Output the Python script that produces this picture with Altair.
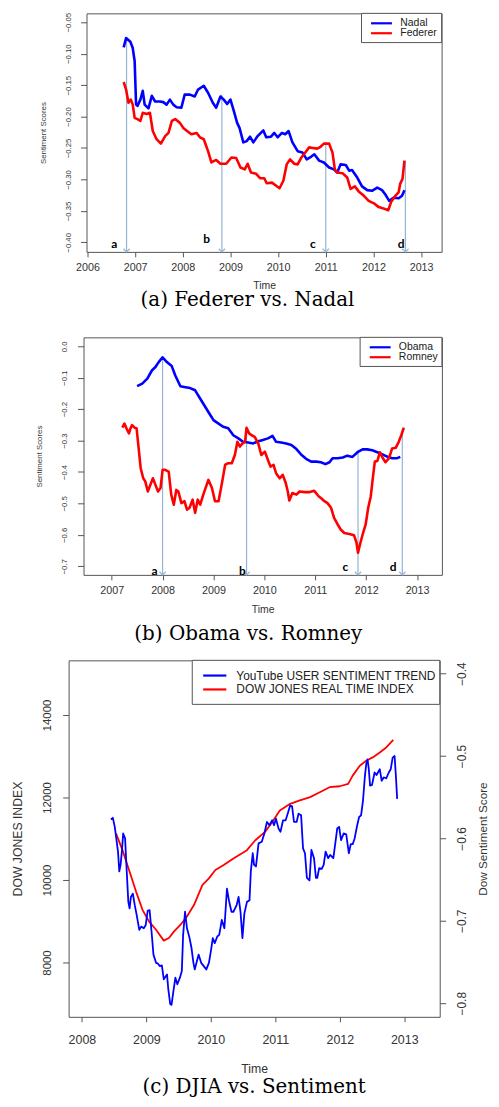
import altair as alt
import pandas as pd

# ---------------- Panel (a): Federer vs. Nadal ----------------
nadal_year = [2006.76, 2006.81, 2006.90, 2006.95, 2006.99, 2007.02, 2007.05, 2007.11, 2007.16, 2007.20,
              2007.28, 2007.35, 2007.42, 2007.52, 2007.59, 2007.66, 2007.73, 2007.80, 2007.87, 2007.97,
              2008.04, 2008.15, 2008.25, 2008.32, 2008.44, 2008.53, 2008.63, 2008.70, 2008.79, 2008.86,
              2008.93, 2009.00, 2009.07, 2009.14, 2009.19, 2009.27, 2009.34, 2009.41, 2009.48, 2009.57,
              2009.69, 2009.75, 2009.85, 2009.92, 2009.99, 2010.08, 2010.15, 2010.22, 2010.30, 2010.41,
              2010.51, 2010.60, 2010.69, 2010.76, 2010.86, 2010.96, 2011.07, 2011.17, 2011.24, 2011.31,
              2011.42, 2011.49, 2011.55, 2011.66, 2011.76, 2011.87, 2011.97, 2012.08, 2012.18, 2012.25,
              2012.33, 2012.42, 2012.53, 2012.60, 2012.65]
nadal_score = [-0.090, -0.075, -0.081, -0.091, -0.112, -0.181, -0.183, -0.173, -0.159, -0.181,
               -0.187, -0.167, -0.176, -0.176, -0.177, -0.181, -0.173, -0.181, -0.185, -0.186,
               -0.165, -0.165, -0.168, -0.157, -0.151, -0.162, -0.178, -0.186, -0.168, -0.173,
               -0.180, -0.173, -0.191, -0.210, -0.218, -0.241, -0.239, -0.232, -0.241, -0.231,
               -0.222, -0.233, -0.232, -0.226, -0.233, -0.226, -0.228, -0.223, -0.241, -0.255,
               -0.257, -0.268, -0.264, -0.260, -0.270, -0.273, -0.281, -0.284, -0.289, -0.276,
               -0.277, -0.286, -0.285, -0.297, -0.311, -0.317, -0.318, -0.313, -0.317, -0.324,
               -0.334, -0.329, -0.330, -0.326, -0.317]
federer_year = [2006.76, 2006.81, 2006.86, 2006.91, 2006.95, 2006.99, 2007.05, 2007.11, 2007.16, 2007.24,
                2007.31, 2007.37, 2007.45, 2007.54, 2007.63, 2007.70, 2007.77, 2007.84, 2007.94, 2008.01,
                2008.09, 2008.18, 2008.29, 2008.36, 2008.44, 2008.53, 2008.60, 2008.70, 2008.79, 2008.91,
                2009.02, 2009.12, 2009.21, 2009.30, 2009.36, 2009.43, 2009.54, 2009.62, 2009.71, 2009.76,
                2009.87, 2009.96, 2010.03, 2010.11, 2010.18, 2010.25, 2010.34, 2010.41, 2010.48, 2010.57,
                2010.65, 2010.73, 2010.82, 2010.89, 2010.96, 2011.07, 2011.14, 2011.19, 2011.24, 2011.35,
                2011.45, 2011.52, 2011.61, 2011.69, 2011.80, 2011.90, 2012.01, 2012.11, 2012.21, 2012.31,
                2012.37, 2012.46, 2012.53, 2012.56, 2012.61, 2012.65]
federer_score = [-0.145, -0.157, -0.178, -0.173, -0.181, -0.202, -0.204, -0.207, -0.194, -0.196,
                 -0.194, -0.223, -0.236, -0.243, -0.231, -0.226, -0.207, -0.204, -0.210, -0.218,
                 -0.223, -0.228, -0.226, -0.233, -0.236, -0.255, -0.273, -0.269, -0.275, -0.275,
                 -0.265, -0.266, -0.281, -0.284, -0.275, -0.289, -0.291, -0.298, -0.298, -0.306,
                 -0.305, -0.310, -0.314, -0.302, -0.276, -0.268, -0.275, -0.276, -0.266, -0.257,
                 -0.249, -0.250, -0.251, -0.248, -0.243, -0.243, -0.257, -0.284, -0.289, -0.290,
                 -0.297, -0.315, -0.311, -0.319, -0.326, -0.334, -0.338, -0.344, -0.346, -0.349,
                 -0.336, -0.326, -0.320, -0.307, -0.299, -0.270]
a_series = ["Nadal", "Federer"]
a_arrow_year = [2006.82, 2008.82, 2011.00, 2012.67]
a_arrow_top = [-0.075, -0.165, -0.243, -0.270]
a_letter_year = [2006.56, 2008.50, 2010.73, 2012.58]
a_letter_score = [-0.402, -0.395, -0.402, -0.402]
a_xticks = [2006, 2007, 2008, 2009, 2010, 2011, 2012, 2013]
a_yticks = [-0.40, -0.35, -0.30, -0.25, -0.20, -0.15, -0.10, -0.05]

# ---------------- Panel (b): Obama vs. Romney ----------------
obama_year = [2007.50, 2007.60, 2007.70, 2007.79, 2007.86, 2007.92, 2008.00, 2008.09, 2008.18, 2008.25,
              2008.35, 2008.45, 2008.54, 2008.64, 2008.74, 2008.84, 2008.90, 2009.00, 2009.10, 2009.19,
              2009.29, 2009.39, 2009.49, 2009.58, 2009.68, 2009.78, 2009.88, 2009.97, 2010.07, 2010.16,
              2010.23, 2010.33, 2010.43, 2010.53, 2010.63, 2010.72, 2010.82, 2010.92, 2011.02, 2011.11,
              2011.20, 2011.28, 2011.34, 2011.44, 2011.54, 2011.63, 2011.73, 2011.83, 2011.93, 2012.02,
              2012.12, 2012.22, 2012.32, 2012.41, 2012.51, 2012.61, 2012.67]
obama_score = [-0.127, -0.119, -0.103, -0.077, -0.066, -0.051, -0.035, -0.051, -0.063, -0.093,
               -0.127, -0.130, -0.133, -0.140, -0.167, -0.193, -0.209, -0.235, -0.246, -0.256,
               -0.261, -0.283, -0.293, -0.304, -0.306, -0.309, -0.302, -0.298, -0.293, -0.285,
               -0.304, -0.306, -0.309, -0.314, -0.327, -0.344, -0.358, -0.367, -0.367, -0.369,
               -0.375, -0.369, -0.356, -0.356, -0.354, -0.348, -0.352, -0.337, -0.328, -0.328,
               -0.331, -0.337, -0.344, -0.351, -0.356, -0.356, -0.352]
romney_year = [2007.21, 2007.25, 2007.29, 2007.34, 2007.37, 2007.40, 2007.45, 2007.49, 2007.52, 2007.57,
               2007.62, 2007.66, 2007.71, 2007.76, 2007.81, 2007.86, 2007.91, 2007.96, 2008.00, 2008.05,
               2008.12, 2008.17, 2008.22, 2008.27, 2008.31, 2008.37, 2008.43, 2008.48, 2008.53, 2008.59,
               2008.64, 2008.69, 2008.74, 2008.80, 2008.90, 2008.97, 2009.03, 2009.10, 2009.16, 2009.23,
               2009.29, 2009.36, 2009.42, 2009.47, 2009.52, 2009.57, 2009.62, 2009.65, 2009.70, 2009.75,
               2009.81, 2009.88, 2009.94, 2010.01, 2010.07, 2010.12, 2010.18, 2010.23, 2010.30, 2010.36,
               2010.42, 2010.46, 2010.49, 2010.55, 2010.63, 2010.69, 2010.79, 2010.89, 2010.98, 2011.07,
               2011.11, 2011.18, 2011.24, 2011.31, 2011.37, 2011.44, 2011.50, 2011.57, 2011.67, 2011.76,
               2011.81, 2011.84, 2011.88, 2011.93, 2011.99, 2012.04, 2012.09, 2012.13, 2012.17, 2012.22,
               2012.27, 2012.32, 2012.38, 2012.45, 2012.51, 2012.58, 2012.64, 2012.69, 2012.74]
romney_score = [-0.259, -0.246, -0.261, -0.277, -0.261, -0.251, -0.259, -0.261, -0.309, -0.388,
                -0.420, -0.430, -0.462, -0.441, -0.420, -0.441, -0.462, -0.451, -0.393, -0.393,
                -0.399, -0.472, -0.504, -0.457, -0.462, -0.499, -0.493, -0.520, -0.514, -0.488,
                -0.530, -0.488, -0.504, -0.472, -0.425, -0.451, -0.493, -0.493, -0.441, -0.377,
                -0.372, -0.372, -0.346, -0.304, -0.319, -0.309, -0.304, -0.259, -0.277, -0.283,
                -0.288, -0.309, -0.346, -0.335, -0.362, -0.383, -0.377, -0.404, -0.420, -0.409,
                -0.435, -0.462, -0.491, -0.467, -0.472, -0.462, -0.464, -0.464, -0.460, -0.478,
                -0.483, -0.493, -0.499, -0.514, -0.546, -0.567, -0.583, -0.594, -0.597, -0.601,
                -0.625, -0.657, -0.630, -0.599, -0.567, -0.514, -0.478, -0.420, -0.367, -0.365,
                -0.337, -0.354, -0.369, -0.356, -0.325, -0.323, -0.304, -0.283, -0.259]
b_series = ["Obama", "Romney"]
b_arrow_year = [2008.00, 2009.65, 2011.84, 2012.71]
b_arrow_top = [-0.035, -0.259, -0.330, -0.262]
b_letter_year = [2007.84, 2009.57, 2011.59, 2012.53]
b_letter_score = [-0.715, -0.715, -0.702, -0.702]
b_xticks = [2007, 2008, 2009, 2010, 2011, 2012, 2013]
b_yticks = [-0.7, -0.6, -0.5, -0.4, -0.3, -0.2, -0.1, 0.0]

# ---------------- Panel (c): DJIA vs. Sentiment ----------------
dow_year = [2008.53, 2008.63, 2008.74, 2008.84, 2008.94, 2009.04, 2009.15, 2009.27, 2009.35, 2009.43,
            2009.53, 2009.63, 2009.74, 2009.87, 2009.97, 2010.07, 2010.20, 2010.35, 2010.56, 2010.69,
            2010.84, 2010.97, 2011.07, 2011.23, 2011.38, 2011.54, 2011.69, 2011.84, 2012.00, 2012.13,
            2012.20, 2012.31, 2012.41, 2012.51, 2012.62, 2012.72, 2012.83]
dow_index = [11125, 10723, 10201, 9719, 9277, 8996, 8795, 8530, 8594, 8755,
             8916, 9117, 9398, 9880, 10040, 10241, 10362, 10522, 10723, 10964,
             11165, 11446, 11687, 11847, 11928, 12008, 12129, 12249, 12273, 12329,
             12530, 12771, 12892, 12972, 13092, 13213, 13398]
yt_year = [2008.45, 2008.48, 2008.51, 2008.56, 2008.58, 2008.60, 2008.62, 2008.64, 2008.67, 2008.69,
           2008.72, 2008.74, 2008.76, 2008.79, 2008.82, 2008.85, 2008.89, 2008.92, 2008.96, 2008.99,
           2009.02, 2009.05, 2009.08, 2009.11, 2009.15, 2009.18, 2009.21, 2009.24, 2009.27, 2009.32,
           2009.34, 2009.37, 2009.39, 2009.42, 2009.45, 2009.48, 2009.52, 2009.55, 2009.57, 2009.60,
           2009.63, 2009.67, 2009.70, 2009.73, 2009.75, 2009.79, 2009.81, 2009.85, 2009.89, 2009.93,
           2009.97, 2010.00, 2010.03, 2010.06, 2010.10, 2010.13, 2010.17, 2010.21, 2010.25, 2010.28,
           2010.32, 2010.35, 2010.40, 2010.43, 2010.46, 2010.49, 2010.52, 2010.56, 2010.60, 2010.62,
           2010.65, 2010.67, 2010.70, 2010.74, 2010.79, 2010.83, 2010.87, 2010.91, 2010.95, 2010.98,
           2011.01, 2011.05, 2011.08, 2011.12, 2011.16, 2011.20, 2011.23, 2011.26, 2011.29, 2011.33,
           2011.36, 2011.40, 2011.43, 2011.46, 2011.49, 2011.53, 2011.56, 2011.60, 2011.63, 2011.65,
           2011.68, 2011.72, 2011.75, 2011.78, 2011.82, 2011.85, 2011.90, 2011.92, 2011.96, 2011.99,
           2012.02, 2012.06, 2012.10, 2012.14, 2012.17, 2012.20, 2012.23, 2012.27, 2012.30, 2012.33,
           2012.36, 2012.39, 2012.41, 2012.43, 2012.45, 2012.47, 2012.50, 2012.54, 2012.57, 2012.62,
           2012.65, 2012.68, 2012.72, 2012.76, 2012.79, 2012.82, 2012.85, 2012.87, 2012.89]
yt_sentiment = [-0.577, -0.575, -0.586, -0.616, -0.640, -0.632, -0.616, -0.594, -0.600, -0.632,
                -0.677, -0.685, -0.671, -0.667, -0.681, -0.693, -0.711, -0.707, -0.709, -0.705,
                -0.688, -0.687, -0.713, -0.741, -0.751, -0.752, -0.755, -0.754, -0.771, -0.765,
                -0.783, -0.801, -0.802, -0.785, -0.769, -0.777, -0.769, -0.761, -0.717, -0.689,
                -0.709, -0.721, -0.733, -0.751, -0.759, -0.747, -0.741, -0.751, -0.755, -0.759,
                -0.751, -0.737, -0.721, -0.727, -0.719, -0.717, -0.699, -0.709, -0.661, -0.675,
                -0.689, -0.689, -0.681, -0.671, -0.689, -0.721, -0.691, -0.677, -0.675, -0.640,
                -0.618, -0.632, -0.634, -0.606, -0.604, -0.594, -0.580, -0.584, -0.578, -0.584,
                -0.576, -0.588, -0.592, -0.578, -0.578, -0.568, -0.560, -0.561, -0.580, -0.580,
                -0.570, -0.572, -0.612, -0.618, -0.648, -0.651, -0.614, -0.624, -0.648, -0.648,
                -0.636, -0.637, -0.632, -0.616, -0.624, -0.620, -0.624, -0.612, -0.588, -0.586,
                -0.602, -0.594, -0.595, -0.618, -0.607, -0.607, -0.600, -0.584, -0.574, -0.572,
                -0.554, -0.524, -0.510, -0.504, -0.516, -0.536, -0.535, -0.520, -0.523, -0.516,
                -0.530, -0.526, -0.527, -0.520, -0.516, -0.502, -0.500, -0.524, -0.552]
c_series = ["YouTube USER SENTIMENT TREND", "DOW JONES REAL TIME INDEX"]
c_xticks = [2008, 2009, 2010, 2011, 2012, 2013]
c_left_ticks = [8000, 10000, 12000, 14000]
c_right_ticks = [-0.8, -0.7, -0.6, -0.5, -0.4]

letters = ["a", "b", "c", "d"]
captions = ["(a) Federer vs. Nadal", "(b) Obama vs. Romney", "(c) DJIA vs. Sentiment"]

# ---------------- styling ----------------
FONT = "Liberation Sans"
TXT = "#333333"
BOX = "#555555"
ARROW = "#95b3d7"
BLUE = "#0000FF"
RED = "#FF0000"
ONE = pd.DataFrame({"k": [0]})


def x_axis(values, fs, pad, title_y, title_fs):
    return alt.Axis(values=values, format="d", title="Time", titleY=title_y, titleBaseline="middle",
                    labelFontSize=fs, titleFontSize=title_fs, labelPadding=pad, tickSize=5,
                    grid=False, domain=False, labelFont=FONT, titleFont=FONT, labelColor=TXT,
                    titleColor=TXT, tickColor=BOX, labelFlush=False, labelOverlap=False,
                    titleFontWeight="normal")


def y_axis(values, fmt, fs, pad, title, title_fs, title_x, orient="left"):
    return alt.Axis(values=values, format=fmt, title=title, orient=orient, labelAngle=270,
                    labelAlign="center", labelBaseline="middle", labelPadding=pad, tickSize=6,
                    titleAngle=270, titleX=title_x, titleBaseline="middle", titleAlign="center",
                    labelFontSize=fs, titleFontSize=title_fs, grid=False, domain=False,
                    labelFont=FONT, titleFont=FONT, labelColor=TXT, titleColor=TXT,
                    tickColor=BOX, labelFlush=False, labelOverlap=False, titleFontWeight="normal")


def legend_layers(names, colors, box, lx, rows_y, tx, fs):
    out = [alt.Chart(ONE).mark_rect(fill="white", stroke=BOX, strokeWidth=1).encode(
        x=alt.value(box[0]), x2=alt.value(box[1]), y=alt.value(box[2]), y2=alt.value(box[3]))]
    for n, c, yy in zip(names, colors, rows_y):
        out.append(alt.Chart(ONE).mark_rule(color=c, strokeWidth=2.2).encode(
            x=alt.value(lx[0]), x2=alt.value(lx[1]), y=alt.value(yy), y2=alt.value(yy)))
        out.append(alt.Chart(ONE).mark_text(text=n, align="left", baseline="middle", font=FONT,
                                            fontSize=fs, color="#222222").encode(
            x=alt.value(tx), y=alt.value(yy)))
    return out


def extender(left, bottom):
    # invisible marker fixing the panel's outer bounds (left margin / gap below)
    return alt.Chart(ONE).mark_rule(color="white", strokeWidth=1).encode(
        x=alt.value(-left), x2=alt.value(-left + 1), y=alt.value(bottom), y2=alt.value(bottom))


def caption_layer(text, cx, cy):
    return alt.Chart(ONE).mark_text(text=text, font="DejaVu Serif", fontSize=20, align="center",
                                    baseline="middle", color="black").encode(
        x=alt.value(cx), y=alt.value(cy))


def spacer():
    return alt.Chart(ONE).mark_rect(opacity=0).encode(
        x=alt.value(0), x2=alt.value(1), y=alt.value(0), y2=alt.value(1)
    ).properties(width=1, height=1, view=alt.ViewBackground(stroke="transparent", strokeWidth=0))


def sentiment_panel(names, series, arrow_year, arrow_top, letter_year, letter_score,
                    xdom, ydom, W, H, xa, ya, legend, left, bottom, caption, cap_xy):
    rows = []
    for name, (yrs, vals) in zip(names, series):
        rows += [{"series": name, "year": a, "score": b} for a, b in zip(yrs, vals)]
    df = pd.DataFrame(rows)
    xs = alt.Scale(domain=xdom, nice=False, zero=False)
    ysc = alt.Scale(domain=ydom, nice=False, zero=False)

    def X():
        return alt.X("year:Q", scale=xs, axis=xa)

    def Y():
        return alt.Y("score:Q", scale=ysc, axis=ya)

    arr = pd.DataFrame({"year": arrow_year, "score": arrow_top, "bottom": [ydom[0]] * len(arrow_year)})
    heads = pd.DataFrame({"year": arrow_year, "score": [ydom[0]] * len(arrow_year)})
    labs = pd.DataFrame({"year": letter_year, "score": letter_score, "letter": letters})

    rules = alt.Chart(arr).mark_rule(color=ARROW, strokeWidth=1.2).encode(
        x=X(), y=Y(), y2=alt.Y2("bottom:Q"))
    tips = alt.Chart(heads).mark_point(shape="M-1,-1L0,0L1,-1", filled=False, color=ARROW, size=40,
                                       strokeWidth=1.2, opacity=1).encode(x=X(), y=Y())
    lines = alt.Chart(df).mark_line(strokeWidth=2.6, strokeJoin="round").encode(
        x=X(), y=Y(),
        color=alt.Color("series:N", scale=alt.Scale(domain=names, range=[BLUE, RED]), legend=None))
    text = alt.Chart(labs).mark_text(font="Lato", fontWeight="bold", fontSize=12, color="black").encode(
        x=X(), y=Y(), text="letter:N")
    layers = [rules, tips, lines, text] + legend_layers(names, [BLUE, RED], *legend) + [
        caption_layer(caption, *cap_xy), extender(left, bottom)]
    return alt.layer(*layers).properties(width=W, height=H)


# Panel a
WA, HA = 357.3, 240
pa = sentiment_panel(
    a_series, [(nadal_year, nadal_score), (federer_year, federer_score)],
    a_arrow_year, a_arrow_top, a_letter_year, a_letter_score,
    [2005.98, 2013.43], [-0.4152, -0.0358], WA, HA,
    x_axis(a_xticks, 10.8, 4.3, 33.4, 10.5),
    y_axis(a_yticks, ".2f", 7.8, 11.7, "Sentiment Scores", 7.9, -43.5),
    ((276.7, WA, 0, 29.4), (286.3, 307.3), (10, 20), 315.7, 10.5),
    77, 324, captions[0], (162, 288.7))

# Panel b
WB, HB = 360.6, 239
pb = sentiment_panel(
    b_series, [(obama_year, obama_score), (romney_year, romney_score)],
    b_arrow_year, b_arrow_top, b_letter_year, b_letter_score,
    [2006.447, 2013.488], [-0.7274, 0.0285], WB, HB,
    x_axis(b_xticks, 10.8, 4.7, 34.4, 10.5),
    y_axis(b_yticks, ".1f", 7.8, 13.4, "Sentiment Scores", 7.9, -44),
    ((278.3, WB, 0, 29.3), (288, 309), (10, 20), 317.3, 10.5),
    73.7, 323, captions[1], (165.8, 298.7))

# Panel c
WC, HC = 373.4, 358.7
xc = alt.Scale(domain=[2007.794, 2013.55], nice=False, zero=False)
xax_c = x_axis(c_xticks, 12.5, 12, 52.3, 12.3)
dow_df = pd.DataFrame({"year": dow_year, "dji": dow_index})
yt_df = pd.DataFrame({"year": yt_year, "sent": yt_sentiment})
dow_line = alt.Chart(dow_df).mark_line(color=RED, strokeWidth=1.8, strokeJoin="round").encode(
    x=alt.X("year:Q", scale=xc, axis=xax_c),
    y=alt.Y("dji:Q", scale=alt.Scale(domain=[6683, 15325], nice=False, zero=False),
            axis=y_axis(c_left_ticks, "d", 11.5, 15.6, "DOW JONES INDEX", 12.3, -51.3)))
yt_line = alt.Chart(yt_df).mark_line(color=BLUE, strokeWidth=1.8, strokeJoin="round").encode(
    x=alt.X("year:Q", scale=xc, axis=xax_c),
    y=alt.Y("sent:Q", scale=alt.Scale(domain=[-0.8165, -0.3839], nice=False, zero=False),
            axis=y_axis(c_right_ticks, ".1f", 12, 15.9, "Dow Sentiment Score", 11.8, 43.5, orient="right")))
pc = alt.layer(
    dow_line, yt_line,
    *legend_layers(c_series, [BLUE, RED], (124.4, WC, 0, 44.3), (135.4, 158.7), (15.3, 29.3), 168.7, 12),
    caption_layer(captions[2], 186.7, 429),
    extender(58.3, 300),
).resolve_scale(y="independent").properties(width=WC, height=HC)

row_a = alt.hconcat(spacer(), pa, spacing=0)
row_b = alt.hconcat(spacer(), pb, spacing=0)
row_c = alt.hconcat(spacer(), pc, spacing=0)

chart = alt.vconcat(row_a, row_b, row_c, spacing=0, padding=0).configure_view(
    stroke=BOX, strokeWidth=1)

chart.save("out.html", embed_options={"renderer": "svg", "actions": False})
